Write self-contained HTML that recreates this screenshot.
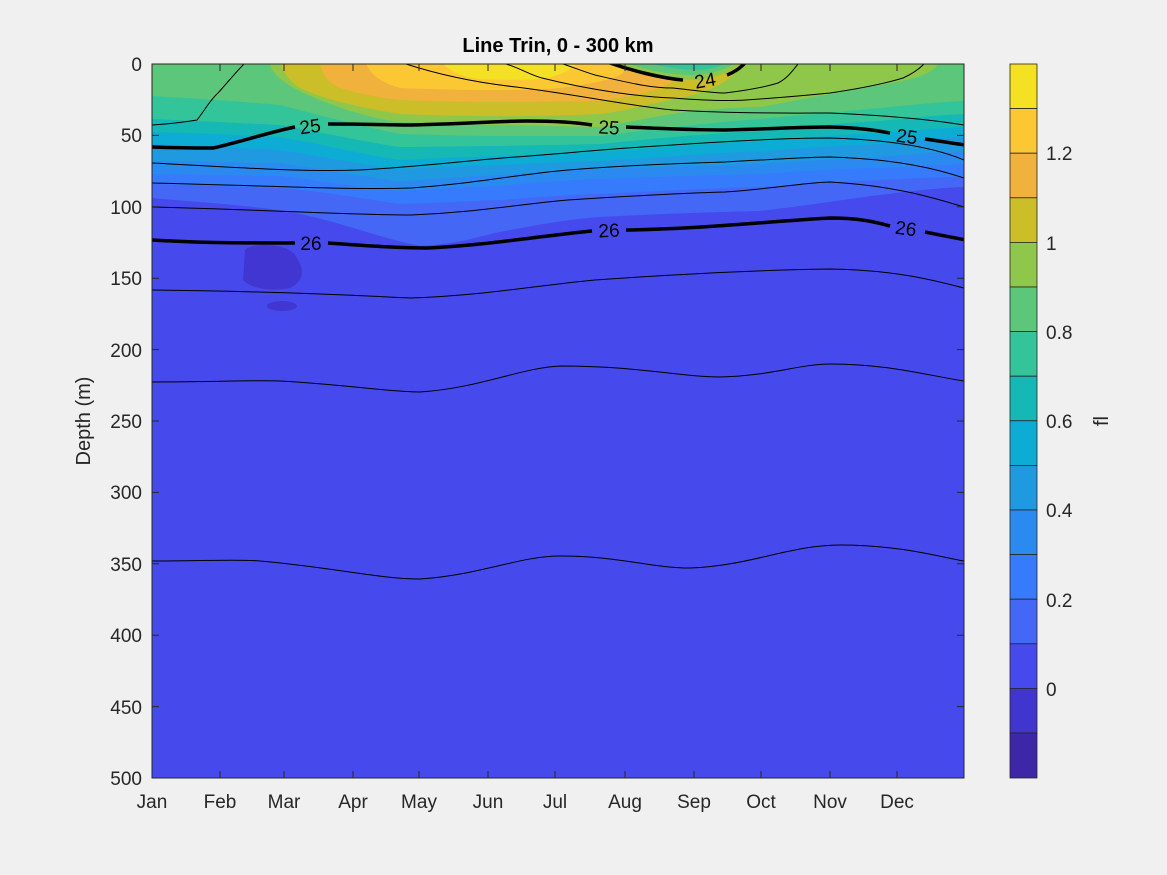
<!DOCTYPE html>
<html><head><meta charset="utf-8"><style>
body{margin:0;background:#f0f0f0;}
svg{display:block;font-family:"Liberation Sans","DejaVu Sans",sans-serif;}
</style></head><body>
<svg width="1167" height="875" viewBox="0 0 1167 875">
<rect width="1167" height="875" fill="#f0f0f0"/>
<defs><clipPath id="c"><rect x="152" y="64" width="812" height="714"/></clipPath></defs>
<g clip-path="url(#c)" stroke-linejoin="round">
<rect x="152" y="64" width="812" height="714" fill="#4649ec"/>
<path d="M152,60 L152,198 C220,204 260,206 300,214 C340,222 380,238 420,246 C460,244 480,236 500,232 C540,224 580,218 600,217 C680,213 720,212 760,211 C820,204 860,197 880,195 C920,190 940,188 964,187 L964,60Z" fill="#4467f6"/>
<path d="M245,250 C250,243 285,242 295,255 C305,270 305,280 290,288 C270,292 250,288 243,280 Z" fill="#4136d2"/>
<ellipse cx="282" cy="306" rx="15" ry="5" fill="#4136d2"/>
<path d="M152,60 L152,184 C220,186 260,188 280,188 C330,192 370,200 400,204 C440,203 470,201 500,200 C540,197 570,195 600,194 C680,190 720,188 760,187 C820,183 860,181 880,180 C920,178 940,177 964,177 L964,60Z" fill="#357bfc"/>
<path d="M152,60 L152,174 C220,175 260,176 280,176 C330,182 370,189 400,191 C440,189 470,187 500,186 C540,182 570,180 600,179 C680,176 720,175 760,174 C820,170 860,168 880,168 C920,166 940,165 964,164 L964,60Z" fill="#2b8af0"/>
<path d="M152,60 L152,161 C220,162 260,163 280,163 C330,170 370,178 400,181 C440,179 470,176 500,175 C540,172 570,170 600,169 C680,166 720,165 760,164 C820,160 860,158 880,157 C920,154 940,152 964,151 L964,60Z" fill="#1f9ae0"/>
<path d="M152,60 L152,144 C220,146 260,149 280,150 C330,158 370,166 400,169 C440,167 470,166 500,165 C540,163 570,162 600,161 C680,156 720,153 760,151 C820,147 860,145 880,144 C920,140 940,138 964,137 L964,60Z" fill="#0cacd4"/>
<path d="M152,60 L152,132 C220,134 260,136 280,137 C330,146 370,156 400,160 C440,158 470,157 500,156 C540,154 570,153 600,152 C680,146 720,143 760,141 C820,136 860,134 880,133 C920,130 940,128 964,127 L964,60Z" fill="#15b8b4"/>
<path d="M152,60 L152,119 C220,122 260,124 280,125 C330,134 370,143 400,147 C440,147 470,146 500,146 C540,145 570,145 600,144 C680,136 720,133 760,131 C820,125 860,122 880,121 C920,117 940,115 964,114 L964,60Z" fill="#33c49a"/>
<path d="M152,60 L152,96 C220,100 260,103 280,105 C330,118 370,128 400,134 C440,135 470,136 500,136 C540,136 570,136 600,136 C680,126 720,122 760,119 C820,113 860,110 880,108 C920,104 940,102 964,101 L964,60Z" fill="#5cc77a"/>
<path d="M268,60 L272,70 C280,80 290,88 320,100 C350,112 380,120 400,122 C450,124 480,125 500,125 C550,126 580,127 600,127 C650,118 680,112 700,110 C730,108 750,107 760,107 C820,96 860,88 880,85 C910,80 925,76 935,68 L940,60Z" fill="#8fc74a"/>
<path d="M279,60 C282,70 288,80 300,88 C320,98 360,108 400,114 C450,116 480,116 500,116 C550,116 580,115 600,114 C630,110 650,104 680,98 C710,92 735,80 745,60Z" fill="#cbbe28"/>
<path d="M319,60 C322,72 326,82 340,88 C360,94 380,98 400,100 C450,102 480,102 500,102 C550,102 580,101 600,101 C620,98 640,95 660,88 C675,82 690,72 700,60Z" fill="#f0b23c"/>
<path d="M365,60 C368,72 378,82 400,88 C450,90 480,90 500,90 C530,90 550,89 560,88 C590,84 610,80 620,75 C626,70 630,66 632,60Z" fill="#fbc834"/>
<path d="M440,60 C448,70 460,77 480,79 C500,80 520,80 540,79 C555,77 570,72 580,60Z" fill="#f5e124"/>
<path d="M612,60 C625,70 660,80 695,80 C720,78 735,70 745,60Z" fill="#8fc74a"/>
<path d="M622,60 C635,68 665,75 695,75 C718,73 730,68 738,60Z" fill="#5cc77a"/>
<path d="M640,60 C655,66 680,70 700,70 C718,68 726,64 730,60Z" fill="#33c49a"/>
</g>
<g fill="none" stroke="#000" clip-path="url(#c)">
<path d="M152,125 C170,124 185,122 197,120 C205,110 210,100 218,93 C228,82 236,72 244,64" stroke-width="1"/>
<path d="M406,64 C440,75 480,83 516,87 C580,95 630,106 673,110 C740,114 800,113 830,113 C900,116 940,121 964,125" stroke-width="1"/>
<path d="M506,64 C520,68 530,75 542,78 C590,90 640,97 673,98 C710,101 730,101 746,100 C790,97 810,95 830,93 C870,87 890,82 903,78 C912,74 918,70 924,64" stroke-width="1"/>
<path d="M563,64 C575,68 585,72 595,75 C630,83 650,88 673,88 C700,91 715,93 725,93 C750,90 765,87 778,83 C788,78 793,70 798,64" stroke-width="1"/>
<path d="M610,63 C630,70 660,78 683,80 M727,75 C735,72 740,68 746,62" stroke-width="3.5"/>
<path d="M152,147 C180,148 200,148 213,148 C240,142 270,132 295,127 M328,124 C370,124 390,125 411,125 C460,124 500,121 527,121 C560,121 580,123 592,125 M626,127 C670,129 700,130 725,130 C770,129 800,127 830,127 C860,128 875,130 890,133 M925,139 C940,141 950,143 966,145" stroke-width="3.5"/>
<path d="M152,163 C250,168 300,172 359,170 C420,167 470,160 516,157 C580,152 620,148 673,145 C730,141 790,138 830,138 C900,140 940,150 964,160" stroke-width="1"/>
<path d="M152,183 C280,186 340,190 411,188 C480,183 520,174 568,170 C630,165 690,163 725,162 C780,159 810,157 830,157 C900,159 940,170 964,178" stroke-width="1"/>
<path d="M152,207 C280,210 340,215 411,215 C480,212 520,204 568,200 C630,196 690,193 725,192 C780,188 810,182 830,182 C900,186 940,200 964,207" stroke-width="1"/>
<path d="M152,240 C200,243 250,243 295,243 M328,243 C370,246 400,248 427,248 C480,246 540,236 592,231 M626,230 C700,229 760,222 830,218 C860,218 875,222 890,226 M925,232 C940,235 950,237 966,240" stroke-width="3.5"/>
<path d="M152,290 C250,291 330,294 411,298 C480,296 540,285 595,280 C680,274 760,270 830,269 C900,270 940,282 964,288" stroke-width="1"/>
<path d="M152,382 C220,382 250,380 280,381 C350,385 390,392 420,392 C480,388 520,368 560,366 C640,366 680,377 720,377 C770,376 800,364 830,364 C890,364 930,376 964,381" stroke-width="1"/>
<path d="M152,561 C200,561 240,559 260,561 C330,567 380,579 420,579 C480,575 520,556 560,556 C620,556 650,568 690,568 C750,566 790,545 840,545 C900,545 940,557 964,561" stroke-width="1"/>
</g>
<g font-size="19" text-anchor="middle" fill="#000">
<text x="310" y="133" transform="rotate(-8 310 126)">25</text>
<text x="609" y="134" transform="rotate(3 609 127)">25</text>
<text x="907" y="143" transform="rotate(8 907 136)">25</text>
<text x="311" y="250">26</text>
<text x="609" y="237" transform="rotate(-3 609 230)">26</text>
<text x="906" y="235" transform="rotate(8 906 228)">26</text>
<text x="705" y="87" transform="rotate(-10 705 80)">24</text>
</g>
<rect x="152" y="64" width="812" height="714" fill="none" stroke="#262626" stroke-width="1"/>
<g stroke="#262626" stroke-width="1">
<path d="M152,135.4h7M152,206.8h7M152,278.2h7M152,349.6h7M152,421h7M152,492.4h7M152,563.8h7M152,635.2h7M152,706.6h7"/>
<path d="M964,135.4h-7M964,206.8h-7M964,278.2h-7M964,349.6h-7M964,421h-7M964,492.4h-7M964,563.8h-7M964,635.2h-7M964,706.6h-7"/>
<path d="M220,778v-7M284,778v-7M353,778v-7M419,778v-7M488,778v-7M555,778v-7M625,778v-7M694,778v-7M761,778v-7M830,778v-7M897,778v-7"/>
<path d="M220,64v7M284,64v7M353,64v7M419,64v7M488,64v7M555,64v7M625,64v7M694,64v7M761,64v7M830,64v7M897,64v7"/>
</g>
<g font-size="19" fill="#262626" text-anchor="end">
<text x="142" y="71">0</text><text x="142" y="142">50</text><text x="142" y="214">100</text><text x="142" y="285">150</text><text x="142" y="357">200</text><text x="142" y="428">250</text><text x="142" y="499">300</text><text x="142" y="571">350</text><text x="142" y="642">400</text><text x="142" y="714">450</text><text x="142" y="785">500</text>
</g>
<g font-size="19" fill="#262626" text-anchor="middle">
<text x="152" y="808">Jan</text><text x="220" y="808">Feb</text><text x="284" y="808">Mar</text><text x="353" y="808">Apr</text><text x="419" y="808">May</text><text x="488" y="808">Jun</text><text x="555" y="808">Jul</text><text x="625" y="808">Aug</text><text x="694" y="808">Sep</text><text x="761" y="808">Oct</text><text x="830" y="808">Nov</text><text x="897" y="808">Dec</text>
</g>
<text x="90" y="421" font-size="20" fill="#262626" text-anchor="middle" transform="rotate(-90 90 421)">Depth (m)</text>
<text x="558" y="52" font-size="20" font-weight="bold" fill="#000" text-anchor="middle">Line Trin, 0 - 300 km</text>
<g stroke="#262626" stroke-width="0.8">
<rect x="1010" y="64" width="27" height="44.6" fill="#f5e124"/>
<rect x="1010" y="108.6" width="27" height="44.6" fill="#fbc834"/>
<rect x="1010" y="153.2" width="27" height="44.6" fill="#f0b23c"/>
<rect x="1010" y="197.8" width="27" height="44.6" fill="#cbbe28"/>
<rect x="1010" y="242.4" width="27" height="44.6" fill="#8fc74a"/>
<rect x="1010" y="287" width="27" height="44.6" fill="#5cc77a"/>
<rect x="1010" y="331.6" width="27" height="44.6" fill="#33c49a"/>
<rect x="1010" y="376.2" width="27" height="44.6" fill="#15b8b4"/>
<rect x="1010" y="420.8" width="27" height="44.6" fill="#0cacd4"/>
<rect x="1010" y="465.4" width="27" height="44.6" fill="#1f9ae0"/>
<rect x="1010" y="510" width="27" height="44.6" fill="#2b8af0"/>
<rect x="1010" y="554.6" width="27" height="44.6" fill="#357bfc"/>
<rect x="1010" y="599.2" width="27" height="44.6" fill="#4467f6"/>
<rect x="1010" y="643.8" width="27" height="44.6" fill="#4649ec"/>
<rect x="1010" y="688.4" width="27" height="44.6" fill="#4135cf"/>
<rect x="1010" y="733" width="27" height="45" fill="#3e26a8"/>
</g>
<g font-size="19" fill="#262626">
<text x="1046" y="160">1.2</text><text x="1046" y="250">1</text><text x="1046" y="339">0.8</text><text x="1046" y="428">0.6</text><text x="1046" y="517">0.4</text><text x="1046" y="607">0.2</text><text x="1046" y="696">0</text>
</g>
<text x="1108" y="421" font-size="20" fill="#262626" text-anchor="middle" transform="rotate(-90 1108 421)">fl</text>
</svg>
</body></html>
